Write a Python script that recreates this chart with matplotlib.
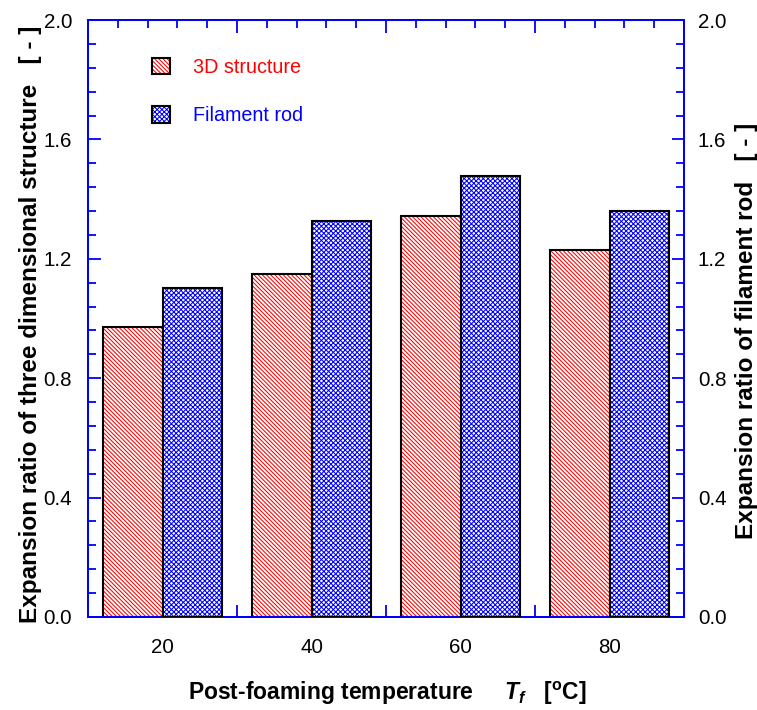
import matplotlib
matplotlib.use("Agg")
import matplotlib.pyplot as plt
from matplotlib.ticker import MultipleLocator, FixedLocator, NullFormatter, FormatStrFormatter
from matplotlib.legend_handler import HandlerTuple
import numpy as np

plt.rcParams['font.family'] = ['Liberation Sans', 'DejaVu Sans']
plt.rcParams['mathtext.fontset'] = 'custom'
plt.rcParams['mathtext.rm'] = 'Liberation Sans:bold'
plt.rcParams['mathtext.bf'] = 'Liberation Sans:bold'
plt.rcParams['mathtext.it'] = 'Liberation Sans:italic:bold'

temperatures = [20, 40, 60, 80]
structure_3d = [0.973, 1.149, 1.344, 1.229]
filament_rod = [1.101, 1.328, 1.478, 1.361]
series_labels = ["3D structure", "Filament rod"]
tick_labels = ["20", "40", "60", "80"]

BLUE = '#0000ff'
RED = '#ff0000'

fig = plt.figure(figsize=(7.57, 7.10), dpi=100)
ax = fig.add_axes([0.1163, 0.131, 0.7873, 0.8408])
ax2 = ax.twinx()

width = 8
x = np.array(temperatures, dtype=float)

plt.rcParams['hatch.linewidth'] = 0.75
r_h = ax.bar(x, structure_3d, width=-width, align='edge', facecolor='white',
             edgecolor=RED, hatch='\\' * 8, linewidth=0, zorder=2)
r_e = ax.bar(x, structure_3d, width=-width, align='edge', facecolor='none',
             edgecolor='black', linewidth=1.5, zorder=3)
plt.rcParams['hatch.linewidth'] = 0.75
b_h = ax2.bar(x, filament_rod, width=width, align='edge', facecolor='white',
              edgecolor=BLUE, hatch='x' * 7, linewidth=0, zorder=2)
b_e = ax2.bar(x, filament_rod, width=width, align='edge', facecolor='none',
              edgecolor='black', linewidth=1.5, zorder=3)

for a in (ax, ax2):
    a.set_xlim(10, 90)
    a.set_ylim(0, 2.0)
    for s in a.spines.values():
        s.set_color(BLUE)
        s.set_linewidth(1.4)
    a.yaxis.set_major_locator(MultipleLocator(0.4))
    a.yaxis.set_minor_locator(MultipleLocator(0.08))
    a.yaxis.set_major_formatter(FormatStrFormatter('%.1f'))
    a.tick_params(axis='both', which='major', direction='in', length=9,
                  width=1.3, color=BLUE, labelsize=14.8, labelcolor='black')
    a.tick_params(axis='both', which='minor', direction='in', length=5.5,
                  width=1.3, color=BLUE)

ax.xaxis.set_major_locator(FixedLocator([10, 30, 50, 70, 90]))
ax.xaxis.set_minor_locator(MultipleLocator(4, offset=2))
ax.xaxis.set_major_formatter(NullFormatter())
ax.tick_params(axis='x', which='both', top=True, bottom=True)
ax.tick_params(axis='y', which='both', left=True, right=False, pad=11.5)
ax2.tick_params(axis='y', which='both', left=False, right=True, pad=10)

sec = ax.secondary_xaxis('bottom')
sec.set_xticks(temperatures)
sec.set_xticklabels(tick_labels)
sec.tick_params(length=0, labelsize=14.8, pad=15)
sec.spines['bottom'].set_visible(False)

ax.set_ylabel("Expansion ratio of three dimensional structure   [ - ]",
              fontsize=17.5, fontweight='bold')
ax.yaxis.set_label_coords(-0.077, 0.49)
ax2.set_ylabel("Expansion ratio of filament rod   [ - ]",
               fontsize=17.5, fontweight='bold', rotation=90)
ax2.yaxis.set_label_coords(1.086, 0.48)

fig.text(0.512, 0.024,
         r"Post-foaming temperature     $T_{f}$   [$^{\mathrm{o}}$C]",
         fontsize=16.5, fontweight='bold', ha='center', va='center')

leg = ax2.legend(handles=[(r_h, r_e), (b_h, b_e)], labels=series_labels,
                 handler_map={tuple: HandlerTuple(ndivide=1, pad=0)},
                 loc='upper left', bbox_to_anchor=(0.107, 0.937),
                 frameon=False, fontsize=14.2, handlelength=0.9,
                 handleheight=0.9, handletextpad=1.2, labelspacing=1.5,
                 borderpad=0, borderaxespad=0, labelcolor=[RED, BLUE])

fig.savefig("out.png", dpi=100)
